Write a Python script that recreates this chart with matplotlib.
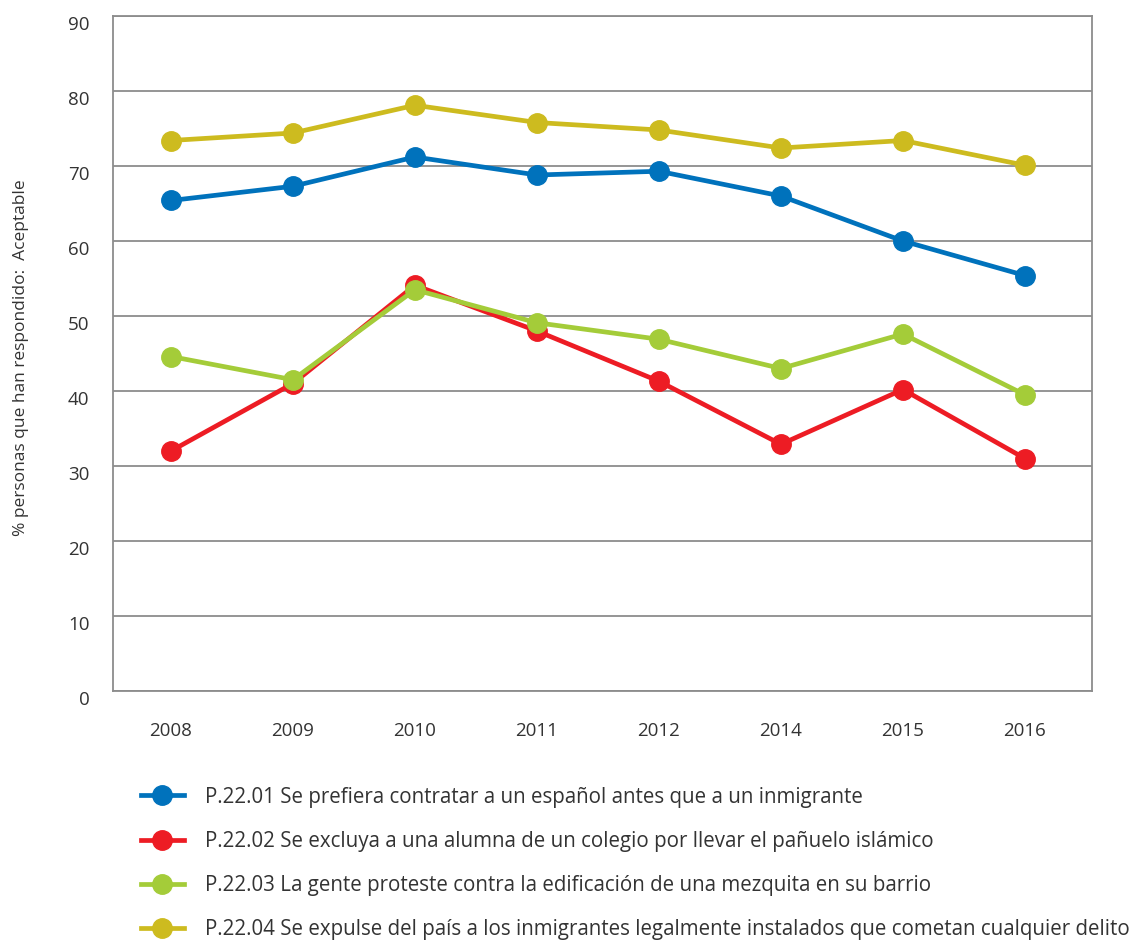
import matplotlib
matplotlib.use('Agg')
import matplotlib.pyplot as plt
import numpy as np

plt.rcParams['font.family'] = ['Open Sans', 'DejaVu Sans']

years = ['2008', '2009', '2010', '2011', '2012', '2014', '2015', '2016']

p2201 = [65.4, 67.3, 71.2, 68.8, 69.3, 66.0, 60.0, 55.4]
p2202 = [32.0, 41.0, 54.1, 48.0, 41.3, 32.9, 40.2, 31.0]
p2203 = [44.6, 41.5, 53.5, 49.1, 46.9, 43.0, 47.6, 39.5]
p2204 = [73.4, 74.4, 78.1, 75.8, 74.8, 72.4, 73.4, 70.1]

labels = ['P.22.01 Se prefiera contratar a un español antes que a un inmigrante',
          'P.22.02 Se excluya a una alumna de un colegio por llevar el pañuelo islámico',
          'P.22.03 La gente proteste contra la edificación de una mezquita en su barrio',
          'P.22.04 Se expulse del país a los inmigrantes legalmente instalados que cometan cualquier delito']
colors = ['#0072bc', '#ed1c24', '#a4cc39', '#cdbb1f']

fig = plt.figure(figsize=(11.46, 9.42), dpi=100)
ax = fig.add_axes([113/1146, 1-691/942, (1092-113)/1146, (691-16)/942])

x = np.arange(len(years))
for vals, lab, c in zip([p2201, p2202, p2203, p2204], labels, colors):
    ax.plot(x, vals, color=c, lw=3.4, marker='o', ms=14, label=lab, zorder=3)

ax.set_xlim(-0.475, 7.55)
ax.set_ylim(0, 90)
ax.set_yticks(range(0, 91, 10))
ax.set_xticks(x)
ax.set_xticklabels(years)
ax.yaxis.grid(True, color='#8c8c8c', lw=1.3)
ax.set_axisbelow(True)
for s in ax.spines.values():
    s.set_color('#8c8c8c')
    s.set_linewidth(1.3)
ax.tick_params(axis='both', length=0, labelsize=13.5, colors='#333333')
ax.tick_params(axis='x', pad=22)
ax.tick_params(axis='y', pad=17)
for t in ax.get_yticklabels():
    t.set_verticalalignment('top')

fig.text(21/1146, 1-358/942, '% personas que han respondido:  Aceptable',
         rotation=90, ha='center', va='center', fontsize=12.5, color='#333333')

fig.legend(loc='upper left', bbox_to_anchor=(122/1146, 1-768/942), frameon=False,
           fontsize=14.8, handlelength=2.1, handletextpad=1.05, labelspacing=1.13,
           labelcolor='#333333')

plt.savefig('out.png', dpi=100)
